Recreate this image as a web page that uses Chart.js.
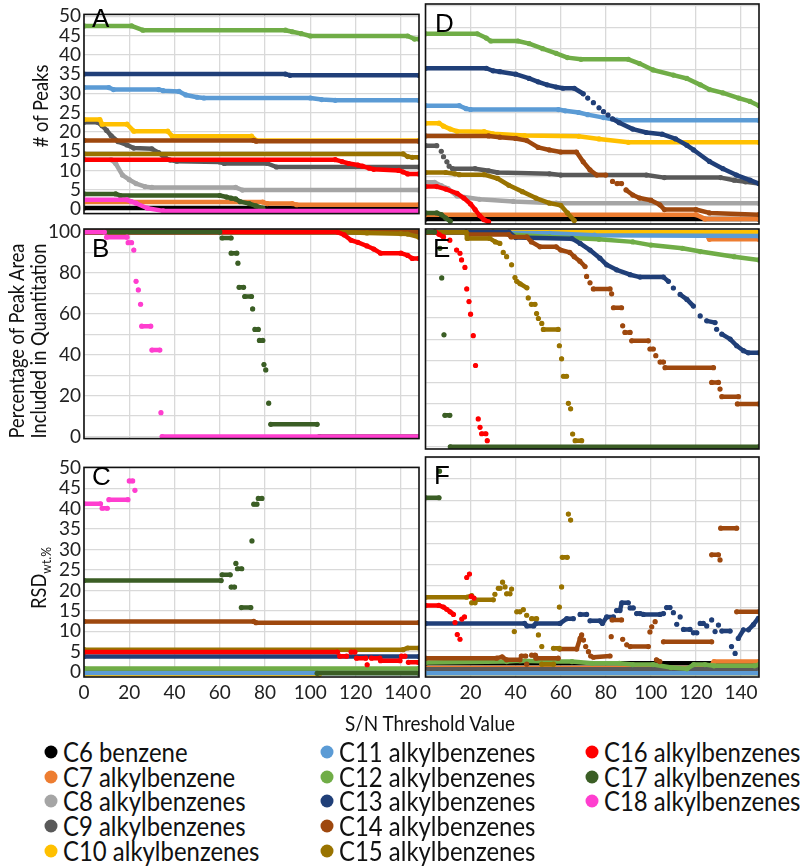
<!DOCTYPE html>
<html>
<head>
<meta charset="utf-8">
<script src="https://cdn.jsdelivr.net/npm/chart.js@4.4.1/dist/chart.umd.min.js"></script>
<style>
html,body{margin:0;padding:0;background:#fff;}
body{width:800px;height:867px;position:relative;overflow:hidden;font-family:Lato,'Liberation Sans',sans-serif;color:#111;}
canvas{position:absolute;}
.rot{position:absolute;white-space:nowrap;transform:translate(-50%,-50%) rotate(-90deg) scaleX(0.87);font-size:21px;line-height:22px;text-align:center;}
.letter{position:absolute;font-family:'Liberation Sans',Arial,sans-serif;font-size:26px;line-height:1;color:#000;}
.leg{position:absolute;font-size:26px;line-height:1;white-space:nowrap;transform-origin:0 50%;transform:translateY(-50%) scaleX(0.92);}
.dot{position:absolute;width:13px;height:13px;border-radius:50%;transform:translate(-50%,-50%);}
.xt{position:absolute;font-size:21px;white-space:nowrap;transform:translate(-50%,-50%) scaleX(0.9);}
</style>
</head>
<body>
<canvas id="cA" width="423" height="228" style="left:0;top:0"></canvas>
<canvas id="cD" width="350" height="228" style="left:416px;top:0"></canvas>
<canvas id="cB" width="423" height="239" style="left:0;top:214px"></canvas>
<canvas id="cE" width="350" height="239" style="left:416px;top:214px"></canvas>
<canvas id="cC" width="423" height="262" style="left:0;top:453px"></canvas>
<canvas id="cF" width="350" height="262" style="left:416px;top:453px"></canvas>

<div class="letter" style="left:92px;top:5px">A</div>
<div class="letter" style="left:92px;top:235px">B</div>
<div class="letter" style="left:92px;top:463px">C</div>
<div class="letter" style="left:435px;top:10px">D</div>
<div class="letter" style="left:433px;top:235px">E</div>
<div class="letter" style="left:434px;top:462px">F</div>

<div class="rot" style="left:40px;top:106px"># of Peaks</div>
<div class="rot" style="left:27px;top:341px">Percentage of Peak Area<br>Included in Quantitation</div>
<div class="rot" style="left:42px;top:578px">RSD<sub style="font-size:14px">wt.%</sub></div>
<div class="xt" style="left:430px;top:722px">S/N Threshold Value</div>
<div id="legend"></div>

<script>
// ---------- data ----------
const seriesNames = ['C6 benzene','C7 alkylbenzene','C8 alkylbenzenes','C9 alkylbenzenes','C10 alkylbenzenes',
  'C11 alkylbenzenes','C12 alkylbenzenes','C13 alkylbenzenes','C14 alkylbenzenes','C15 alkylbenzenes',
  'C16 alkylbenzenes','C17 alkylbenzenes','C18 alkylbenzenes'];
const seriesColors = ['#000000','#ED7D31','#A5A5A5','#595959','#FFC000','#5B9BD5','#70AD47','#203F78',
  '#9E480E','#997300','#FF0000','#3B5E25','#FF3ECF'];
const xTicks = [0,20,40,60,80,100,120,140];

// each series: list of segments, each segment = flat [x,y,x,y,...] (S/N threshold, value)
// Panel A: # of peaks (left workflow)
const peaksA = [
  [[0,0.25,148,0.25]],
  [[0,1.8,79,1.8,81,1.4,92,1.4,94,1.1,148,1.1]],
  [[0,12.8,12,12.8,14,11.8,17,8.8,20,7.6,23,6.6,27,5.8,30,5.6,67,5.6,70,4.9,148,4.9]],
  [[0,22.5,6,22.5,8,21.6,10,20.4,12,19,15,17.5,19,16.6,22,15.8,30,15.6,33,14.6,36,13.2,38,12.7,41,12.4,60,12.2,62,11.8,81,11.8,85,10.9,148,10.9]],
  [[0,23.2,7,23.2,8,22,19,22,22,20.2,37,20.2,39,18.9,74,18.9,76,17.8,148,17.8]],
  [[0,31.5,11,31.5,13,31,33,31,35,30.7,42,30.5,45,29.6,50,29,53,28.8,100,28.8,105,28.4,111,28.2,148,28.2]],
  [[0,47.5,21,47.5,26,46.4,89,46.4,92,46,96,45.5,100,44.9,143,44.9,146,44.1,148,44.1]],
  [[0,35,89,35,91,34.7,148,34.7]],
  [[0,17.8,75,17.8,76,17.6,148,17.6]],
  [[0,14.3,141,14.3,143,13.6,145,13.4,148,13.4]],
  [[0,12.8,111,12.8,114,12.3,117,11.8,121,11.4,123,11.1,126,10.6,128,10.3,139,10,141,9.6,143,9.1,148,9.1]],
  [[0,3.9,14,3.9,16,3.5,60,3.5,63,3.1,65,2.8,67,2.6,69,1.9,73,1.4,76,0.8,79,0.2]],
  [[0,2.4,19,2.4,21,1.9,23,1.5,28,0.2,35,-0.5,148,-0.5]]
];
// Panel D: # of peaks (right workflow)
const peaksD = [
  [[0,0,148,0]],
  [[0,1.0,120,1.0,124,0,148,0]],
  [[0,8.6,4,8.6,7,7.8,10,7.1,14,5.4,24,4.6,39,4.1,58,3.7,148,3.7]],
  [[0,17.2,5,17.2],[7,15.9],[8,14.6],[9.5,13.4],[10.5,12.4],[12,11.8,22,11.8,28,11.3,32,10.9,55,10.6,60,10.3,98,10.3,106,9.7,131,9.7,137,9.1,142,8.7,148,8.3]],
  [[0,22.5,6,22.5,8,21.8,11,21.1,14,20.6,26,20.5,30,20,44,19.6,68,19.4,77,18.8,90,18,148,18]],
  [[0,26.6,15,26.6,18,25.9,20,25.7,59,25.7,62,25.4,68,25,72,24.5,79,23.8,85,23.2,148,23.2]],
  [[0,43.5,23,43.5,27,42.5,29,41.8,41,41.8,46,41.2,52,40,58,38.9,63,37.9,69,37.5,90,37.5,95,36.5,101,35,110,33.8,116,33,122,31.5,126,30.4,132,29.6,139,28.4,144,27.6,148,26.6]],
  [[0,35.4,27,35.4,30,34.8,33,34.6,40,34,46,33,50,32.2,54,31.5,58,31,61,30.7,66,30.7,70,29.4],[72,28.4],[74.5,27.3],[77,26.1],[79,25.2],[81,24.4],[83,23.5,86,22.6,92,21.1,98,20.3,105,19.9,111,18.8,116,17.3,119,16.2,126,13.5,132,11.8,138,10.3,144,9.1,148,8.3]],
  [[0,19.5,28,19.5,33,19.2,40,18.9,45,18.4,50,16.8,55,16.2,60,15.7,67,15.7,70,13.4,73,11.5,76,10.3,80,10.3],[83,8.8],[85,8.3,87,8.3],[89,6.8,92,5.6,95,4.9,100,4.4,104,3.3,106,2.2,120,2.2,126,1.4,148,1.0]],
  [[0,10.9,9,10.9,13,10.6,15,10.4,26,10.4,32,9.5,37,7.9,43,6.4,49,4.9,55,3.7,60,3.2,63,1.4,66,-0.4]],
  [[0,7.6,5,7.6,9,7,14,6,17,4.9,20,3.5,22,2.2,24,0.8,26,-0.2,28,-0.7]],
  [[0,1.4,5,1.4,7,1.0,9,0.2,11,-0.5]],
  []
];
// Panel B: % of peak area included (left workflow)
const pctB = [
  [[0,100,148,100]],[[0,100,148,100]],[[0,100,148,100]],[[0,100,148,100]],[[0,100,148,100]],
  [[0,100,148,100]],[[0,100,148,100]],[[0,100,148,100]],[[0,100,148,100]],
  [[0,100,113,100,125,99.6,140,99.2,143,99,148,97.5]],
  [[0,100,112,100,115,98.6,118,96,121,95,125,93.2,128,91.7,131,89.7,140,89.7,143,88.6,145,87.1,148,87.1]],
  [[0,100,60,100],[61,97.1,65,97.1],[65,89.7,67.5,89.7],[68,84.8],[68.5,73,70.5,73],[71,68.5,74,68.5],[74.5,62.4],[75.5,52.4,77,52.4],[77.5,47,79,47],[79.5,35.2],[80.3,32.6],[81.6,16.3],[82.5,6,103,6],[104,0,148,0]],
  [[0,100,9,100],[10,97.5,19,97.5],[19.5,94.8,21,94.8],[22,91.2],[23,75.9],[24,71.7],[25,64.7],[25.5,54,29.5,54],[30,42.3,33.5,42.3],[34,11.7],[34.5,0,148,0]]
];
// Panel E: % of peak area included (right workflow)
const pctE = [
  [[0,100,148,100]],
  [[0,100,124,100,126,96.7,148,96.7]],
  [[0,100,148,100]],
  [[0,100,148,100]],
  [[0,100,148,100]],
  [[0,100,55,99.5,75,98.6,148,98.2]],
  [[0,100,30,100,37.5,98.9,55,97.8,77,96.7,92,95.5,100,94,114,92.5,122,91,137,88.6,148,87.1]],
  [[0,100,37,100,40,97.5,65,97,68.6,94.8,73,91.7,77.4,87.9,80.4,84.8,84.8,82.5,90.8,80.2,95.2,79.1,105.6,79.1,107.8,77.1],[110,74],[113,71,116,68.7,118.9,65.6],[121.9,61],[124.8,58.7,128.5,57.9],[129.2,54.8],[131.5,52.5,135.2,50.2,138.1,47.1,141.1,44.8,143.3,43.8,148,43.8]],
  [[0,100,18,100,19,98.9,37,98.9,38,97.8,45,97.8,47,95.5,50.8,93.2,58,93.2,60,91.7,64,90.6,66,88.6,68.5,86.5,70.8,84],[71.5,79.4],[73,76.4],[74.5,73.6,81.9,73.6],[82.6,71.3],[83.4,64.8,87,64.8],[87.5,56.4],[88.5,53.3,90.8,53.3],[91.5,49.4,98.9,49.4],[99.6,45.6,101.1,45.6],[102.2,42.5],[104.1,39.5,105.6,39.5],[106.3,36.9,127.8,36.9],[127,30,130,30],[130.7,26.9],[131.5,23.4,138.9,23.4],[138.4,20,148,20]],
  [[0,100,18,100,18.5,97.1,28.5,97.1,31,95.5,33,94.8],[34.5,90.6],[36,88.6],[38.2,84.8],[39.7,78.9],[40.5,77.1,42,76,45,74.1],[45.6,69.4],[47,66.4,48.6,66.4],[49.3,62.1],[50.1,59.8],[51.6,57.5],[52.3,54.7,58.9,54.7],[59.4,47.1],[60.4,41],[61.2,32.9,62.6,32.9],[63.4,20.3],[64.4,17.7],[65.3,6],[66.4,2.9,69.3,2.9]],
  [[0,100,4.5,100,6,99,8,97.8],[10.8,96.3],[13.8,91.7],[15.3,90.2],[16,87.1],[17.5,83.6],[18.3,73.6],[19.3,67.7],[20,61.8],[21.2,51.8],[22.2,37.9],[23.4,13],[24.2,9.1],[24.9,6.1,26.8,6.1],[27.4,2.9]],
  [[0,100,4,100],[6.4,92.5],[7.2,78.7],[8.2,52.2],[8.6,14.7,10.8,14.7],[11,0,148,0]],
  []
];
// Panel C: RSD wt.% (left workflow)
const rsdC = [
  [[0,0,148,0]],[[0,0,148,0]],[[0,0,148,0]],[[0,0,148,0]],
  [[0,-0.6,104,-0.6]],
  [[0,-0.2,148,-0.2]],
  [[0,0.9,148,0.9]],
  [[0,3.8,148,3.8]],
  [[0,12.4,75,12.4,76,12.1,148,12.1]],
  [[0,5.5,141,5.5,143,5.9,148,5.9]],
  [[0,4.9,112,4.9],[113,3.9,116,3.9],[118,4.9,119.7,4.9],[120.4,3.4,124.5,3.4],[125.1,1.8],[127,3.4,130.7,3.4],[131,2.8,139.6,2.8],[140.3,3.9,141.8,3.9],[143.3,2.4,147.7,2.4]],
  [[0,22.4,60.6,22.4],[61,23.8,64.6,23.8],[65,20.8,66.5,20.8],[67.1,26.6],[67.8,25.3,69.7,25.3],[69.5,15.8,73.7,15.8],[74.2,32.1],[75,41.1,76.4,41.1],[77,42.5,78.6,42.5],[103,-0.3,148,-0.3]],
  [[0,41.2,7.3,41.2],[8,40.1,10.3,40.1],[11,42.2,19.4,42.2],[20,46.8,21.5,46.8],[22.5,44.5]]
];
// Panel F: RSD wt.% (right workflow)
const rsdF = [
  [[0,2.0,148,2.0]],
  [[0,0.9,126,0.9,128,2.4,148,2.4]],
  [[0,0.3,148,0.3]],
  [[0,0.6,148,0.6]],
  [[0,-0.3,148,-0.3]],
  [[0,-0.3,148,-0.3]],
  [[0,2.2,36,2.4,42,2.6,56,2.4,65,2.4,74,2,86,2,92,1.7,101,1.7,109,1,116,0.7,119,1.7,124,1.7,128,1.4,146,1.4,148,1.7]],
  [[0,11.3,44,11.3,45,10.7,48,10.7,49,11.3,59.7,11.3,62.7,12.4,65.6,12.4],[68.6,13.4,71.5,13.4],[73,11.9,77.4,11.9,78.5,11.3,80.4,12.8,83.4,12.8],[84.8,14.3,86.3,14.3,87.1,16.1,90,16.1],[90.8,14.9,92.2,14.9],[93.7,13.6,95.2,13.6,96.7,13.4,104.1,13.4,105.6,13.6],[107,15,108.5,15],[110,13.8],[111.5,11.1],[113,12.8],[114.5,9.9,117.4,9.9],[118.9,9.1,120.4,9.1],[121.9,11.3,123.3,11.3],[124.8,10.7],[127,12.1],[128.5,9.4],[130,10.9],[131.5,9.5,135.2,9.5],[135.8,5.9],[137.4,4.3],[138.8,7.8,141.1,9.8],[143.3,9.8,145.5,11,147.7,12.5]],
  [[0,3.2,31.6,3.2,34,3.5,36,2.8,41.9,2.8],[42.5,3.7,44.5,3.7],[44.9,1.8],[47.1,3.9,48.6,3.9,49,3.2,58.9,3.2],[59.5,5.3,67.1,5.3,68.6,7.8,69.3,8.6],[70.1,7.4],[71.1,5.9],[72.3,4.7],[73.3,3.7],[74.5,3.4,81.9,3.7],[82.4,8.2],[82.8,12.1,87,12.1],[87.5,7.6],[89.3,6.3],[90.8,5.9,98.9,5.9],[99.6,9.3],[100.4,10.5],[101.9,11.7],[102.5,2.8,104,2.4],[105.6,7,127,7],[127,27.3,130,27.3],[130.7,26.1],[131,33.5,138.1,33.5],[138.1,14,148,14]],
  [[0,17.4,18.3,17.4,20.5,17.8],[20.5,16.1,22,16.1],[22,16.8,30.1,16.8],[30.8,18.1],[32.3,19.5,33.1,19.5],[34.2,20.9],[35.3,19.8],[36,18.2,37.5,18.2],[38.2,19.3],[39.4,9.4],[40.5,14,41.9,14],[43.4,14.5],[44.9,13.2],[47.1,12.4,49.3,12.4],[50.1,8.6],[51.6,5.9],[51.6,1.8,56.8,1.8],[56.8,5.5,59.4,5.5],[59.4,15.1],[60.4,19.8],[60.7,26.7,62.9,26.7],[63.4,36.8],[64.4,35.4]],
  [[0,15.5,5.9,15.5,8,15.1,9.4,14.6,10.9,14,12.4,13.4],[13.1,11.5],[14.1,8.7],[15.3,7.6],[16.1,12.3],[17.3,12.8],[18.3,22],[19.5,22.8],[20.3,17.6],[21.5,17.2]],
  [[0,40.6,6,40.6],[6.2,46.8]],
  []
];

// ---------- rendering ----------
Chart.defaults.font.family = "Lato,'Liberation Sans',sans-serif";

function toPoints(segs){
  const out = [];
  segs.forEach((s,k)=>{
    if (k) out.push({x:s[0], y:null});
    for (let i=0;i<s.length;i+=2) out.push({x:s[i], y:s[i+1]});
  });
  return out;
}
const boxPlugin = {
  id:'box',
  afterDatasetsDraw(c){
    const a=c.chartArea, ctx=c.ctx;
    ctx.save(); ctx.strokeStyle='#111'; ctx.lineWidth=1.6;
    ctx.strokeRect(a.left, a.top, a.right-a.left, a.bottom-a.top);
    ctx.restore();
  }
};
function panel(id, data, o){
  const n = seriesNames.length;
  const datasets = data.map((segs,i)=>({
    label: seriesNames[i],
    data: toPoints(segs),
    borderColor: seriesColors[i],
    backgroundColor: seriesColors[i],
    pointBackgroundColor: seriesColors[i],
    pointBorderWidth: 0,
    pointRadius: 2.6,
    borderWidth: 4.5,
    borderCapStyle: 'round',
    borderJoinStyle: 'round',
    spanGaps: false,
    tension: 0,
    order: n - i
  }));
  new Chart(document.getElementById(id), {
    type: 'line',
    data: { datasets },
    plugins: [boxPlugin],
    options: {
      responsive:false, animation:false, devicePixelRatio:1,
      layout:{ padding:{ left:0, right:o.pr, top:o.pt, bottom:0 } },
      plugins:{ legend:{display:false}, tooltip:{enabled:false} },
      events: [],
      scales:{
        x:{ type:'linear', min:0, max:148,
            afterBuildTicks: s => { s.ticks = xTicks.map(v=>({value:v})); },
            ticks:{ display:o.showX, font:{size:19}, color:'#222', padding:4, maxRotation:0, autoSkip:false },
            grid:{ color:'#d9d9d9', lineWidth:1.3, drawTicks:false },
            border:{ display:false },
            afterFit: s => { s.height = o.xh; } },
        y:{ type:'linear', min:o.ymin, max:o.ymax,
            ticks:{ stepSize:o.step, includeBounds:false, display:o.showY, autoSkip:false,
                    font:{size:19}, color:'#222', padding:3,
                    callback: v => (o.labelEvery && v % o.labelEvery !== 0) ? '' : v },
            grid:{ color:'#d9d9d9', lineWidth:1.3, drawTicks:false },
            border:{ display:false },
            afterFit: s => { s.width = o.yw; } }
      }
    }
  });
}
const L = { yw:84, pr:4 }, R = { yw:9.5, pr:7 };
panel('cA', peaksA, {...L, pt:3, xh:2, ymin:-1.2, ymax:50.5, step:5, showY:true, showX:false});
panel('cD', peaksD, {...R, pt:3, xh:2, ymin:-1.2, ymax:50.5, step:5, showY:false, showX:false});
panel('cB', pctB, {...L, pt:15, xh:2, ymin:-1, ymax:101.5, step:10, labelEvery:20, showY:true, showX:false});
panel('cE', pctE, {...R, pt:15, xh:2, ymin:-1, ymax:101.5, step:10, showY:false, showX:false});
panel('cC', rsdC, {...L, pt:3, xh:38, ymin:-1.2, ymax:50.1, step:5, showY:true, showX:true});
panel('cF', rsdF, {...R, pt:3, xh:38, ymin:-1.2, ymax:50.1, step:5, showY:false, showX:true});

// legend (HTML text)
const legendCols = [[0,1,2,3,4],[5,6,7,8,9],[10,11,12]];
const colX = [51,327,592], rowY = [752,777,801,826,851];
const lg = document.getElementById('legend');
legendCols.forEach((col,ci)=>col.forEach((si,ri)=>{
  const d = document.createElement('div'); d.className='dot';
  d.style.left = colX[ci]+'px'; d.style.top = rowY[ri]+'px'; d.style.background = seriesColors[si];
  lg.appendChild(d);
  const t = document.createElement('div'); t.className='leg';
  t.style.left = (colX[ci]+12)+'px'; t.style.top = rowY[ri]+'px'; t.textContent = seriesNames[si];
  lg.appendChild(t);
}));
</script>
</body>
</html>
